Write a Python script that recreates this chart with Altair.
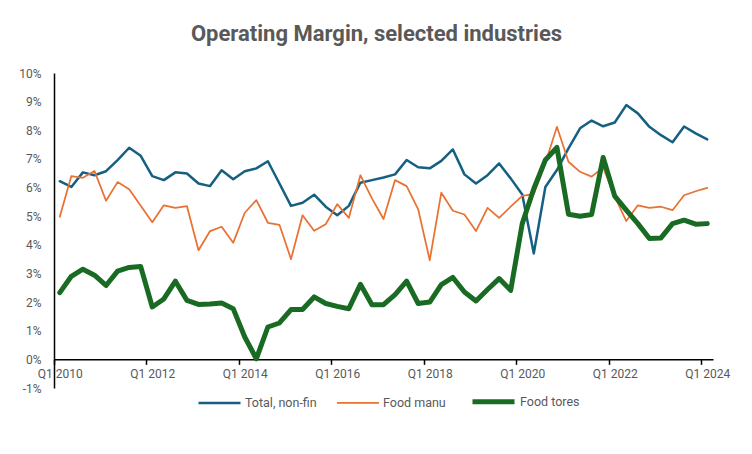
import altair as alt
import pandas as pd

series_names = ["Total, non-fin", "Food manu", "Food tores"]
series_colors = ["#156082", "#E97132", "#196B24"]
series_widths = [2.5, 1.75, 5.0]

# Quarterly operating margin (%), Q1 2010 .. Q1 2024
total_nonfin = [6.22, 6.02, 6.53, 6.43, 6.57, 6.96, 7.39, 7.11, 6.40, 6.26,
                6.53, 6.49, 6.14, 6.05, 6.60, 6.29, 6.57, 6.67, 6.92, 6.14,
                5.36, 5.47, 5.75, 5.33, 5.03, 5.36, 6.17, 6.26, 6.35, 6.46,
                6.96, 6.71, 6.67, 6.93, 7.33, 6.46, 6.14, 6.43, 6.84, 6.32,
                5.76, 3.70, 6.02, 6.61, 7.37, 8.07, 8.34, 8.14, 8.27, 8.88,
                8.59, 8.12, 7.83, 7.58, 8.13, 7.89, 7.68]
food_manu = [4.98, 6.40, 6.34, 6.58, 5.54, 6.19, 5.94, 5.36, 4.79, 5.38,
             5.29, 5.35, 3.81, 4.48, 4.63, 4.07, 5.12, 5.56, 4.77, 4.70,
             3.50, 5.03, 4.49, 4.72, 5.42, 4.94, 6.43, 5.62, 4.90, 6.26,
             6.05, 5.24, 3.46, 5.82, 5.19, 5.06, 4.48, 5.29, 4.94, 5.33,
             5.71, 5.77, 6.85, 8.12, 6.90, 6.55, 6.38, 6.70, 5.68, 4.83,
             5.38, 5.29, 5.33, 5.21, 5.73, 5.87, 5.99]
food_stores = [2.33, 2.90, 3.15, 2.94, 2.58, 3.08, 3.21, 3.24, 1.83, 2.11,
               2.73, 2.06, 1.92, 1.93, 1.97, 1.77, 0.78, 0.02, 1.13, 1.27,
               1.74, 1.74, 2.18, 1.95, 1.85, 1.77, 2.62, 1.91, 1.91, 2.26,
               2.73, 1.95, 2.00, 2.61, 2.86, 2.35, 2.04, 2.44, 2.82, 2.41,
               4.74, 5.96, 6.96, 7.40, 5.07, 5.00, 5.06, 7.05, 5.70, 5.21,
               4.74, 4.22, 4.24, 4.74, 4.86, 4.72, 4.74]

y_ticks = [-0.01, 0.0, 0.01, 0.02, 0.03, 0.04, 0.05, 0.06, 0.07, 0.08, 0.09, 0.10]

rows = []
for name, vals in zip(series_names, [total_nonfin, food_manu, food_stores]):
    for i, v in enumerate(vals):
        rows.append({"series": name, "q": i, "value": v / 100.0})
df = pd.DataFrame(rows)

n = len(total_nonfin)
W, H = 659, 315
px_per_pct = H / 11.0
band = W / n
x_tick_values = [k - 0.5 for k in range(0, n, 8)]

FONT = "Roboto, Liberation Sans, sans-serif"
GREY = "#595959"

legend = alt.Legend(
    title=None, orient="none", legendX=143, legendY=305, direction="horizontal",
    symbolType="stroke", symbolSize=1764, labelFontSize=12.5, labelColor=GREY,
    labelFont=FONT, columnPadding=16, labelOffset=3,
)

chart = alt.Chart(df).mark_line(strokeJoin="round", strokeCap="round").encode(
    x=alt.X("q:Q",
            scale=alt.Scale(domain=[-0.5, n - 0.5], nice=False, zero=False),
            axis=alt.Axis(values=x_tick_values, title=None,
                          labelExpr="'Q1 ' + (2010 + (datum.value + 0.5) / 4)",
                          labelOffset=band / 2, offset=-px_per_pct,
                          labelOverlap=False, labelFlush=False, labelBound=False,
                          domainColor="black", domainWidth=1.5,
                          tickColor="black", tickWidth=1.5, tickSize=5,
                          labelPadding=4, labelFontSize=12, labelColor=GREY,
                          labelFont=FONT, grid=False)),
    y=alt.Y("value:Q",
            scale=alt.Scale(domain=[-0.01, 0.10], nice=False, zero=False),
            axis=alt.Axis(values=y_ticks, title=None,
                          labelExpr="round(datum.value * 100) + '%'",
                          ticks=False, domainColor="black", domainWidth=1.5,
                          labelPadding=13, labelFontSize=12, labelColor=GREY,
                          labelFont=FONT, grid=False)),
    color=alt.Color("series:N",
                    scale=alt.Scale(domain=series_names, range=series_colors),
                    sort=series_names, legend=legend),
    strokeWidth=alt.StrokeWidth("series:N",
                                scale=alt.Scale(type="ordinal", domain=series_names,
                                                range=series_widths),
                                sort=series_names, legend=legend),
).properties(
    width=W, height=H,
    title=alt.TitleParams("Operating Margin, selected industries", fontSize=22,
                          fontWeight="bold", color=GREY, font=FONT,
                          anchor="middle", dx=-7, offset=21),
    autosize=alt.AutoSizeParams(type="none"),
    padding={"left": 46, "top": 65, "right": 31, "bottom": 58},
).configure_view(stroke=None)

chart.save("out.html", embed_options={"renderer": "svg", "actions": False})
